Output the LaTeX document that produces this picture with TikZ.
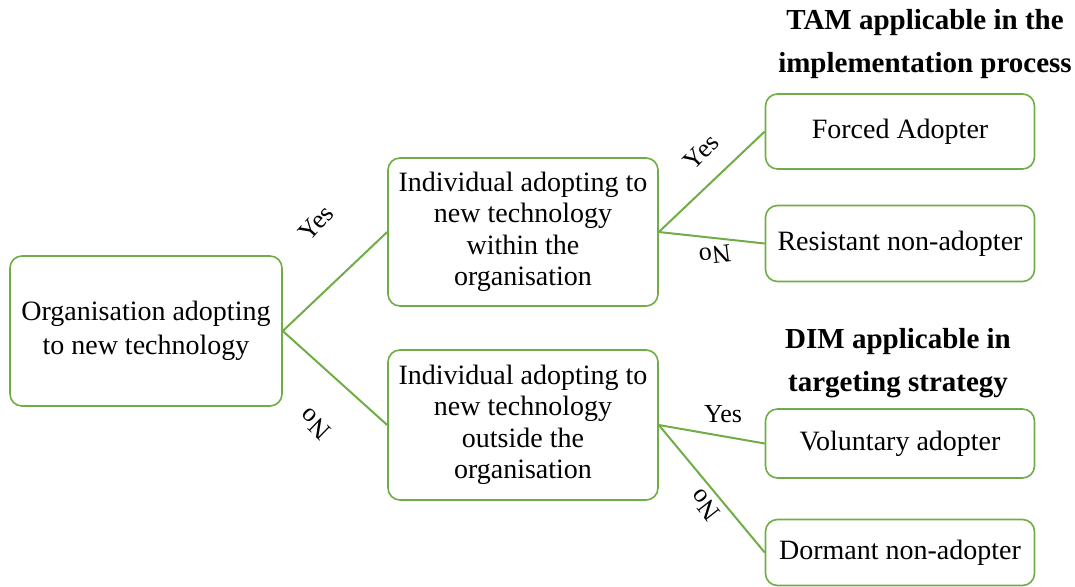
\documentclass[tikz,border=0pt]{standalone}
\usepackage{fontspec}
\setmainfont{Liberation Serif}
\definecolor{boxgreen}{RGB}{112,173,71}
\begin{document}
\begin{tikzpicture}[x=1pt,y=-1pt,
  box/.style={draw=boxgreen, line width=1.6pt, rounded corners=12pt, align=center, inner sep=0pt, fill=white},
  link/.style={draw=boxgreen, line width=2pt},
  lbl/.style={font=\fontsize{26}{30}\selectfont, inner sep=0pt},
  head/.style={font=\fontsize{29}{43}\selectfont\bfseries, align=center, inner sep=0pt},
  txt/.style={font=\fontsize{28}{34}\selectfont}
]
\useasboundingbox (0,0) rectangle (1075,586);
\node[box, txt, minimum width=272pt, minimum height=150pt] (org) at (146,331) {Organisation adopting\\to new technology};
\node[box, font=\fontsize{28}{31.5}\selectfont, minimum width=270pt, minimum height=148pt] (mid1) at (523,232) {Individual adopting to\\new technology\\within the\\organisation};
\node[box, font=\fontsize{28}{31.5}\selectfont, minimum width=270pt, minimum height=150pt] (mid2) at (523,425) {Individual adopting to\\new technology\\outside the\\organisation};
\node[box, txt, minimum width=269pt, minimum height=75pt] (forced) at (900,131.5) {Forced Adopter};
\node[box, txt, minimum width=269pt, minimum height=76pt] (resist) at (900,243.5) {Resistant non-adopter};
\node[box, txt, minimum width=269pt, minimum height=69pt] (vol) at (900,443.5) {Voluntary adopter};
\node[box, txt, minimum width=269pt, minimum height=66pt] (dorm) at (900,552.5) {Dormant non-adopter};
\draw[link] (org.east) -- (mid1.west);
\draw[link] (org.east) -- (mid2.west);
\draw[link] (mid1.east) -- (forced.west);
\draw[link] (mid1.east) -- (resist.west);
\draw[link] (mid2.east) -- (vol.west);
\draw[link] (mid2.east) -- (dorm.west);
\node[lbl, rotate=48] (y1) at (316,223) {Yes};
\node[lbl, rotate=136] (n1) at (315,424) {No};
\node[lbl, rotate=45] (y2) at (701,152) {Yes};
\node[lbl, rotate=187] (n2) at (715,255) {No};
\node[lbl] (y3) at (723,414) {Yes};
\node[lbl, rotate=128] (n3) at (705,505) {No};
\node[head] (tam) at (925,44) {TAM applicable in the\\implementation process};
\node[head] (dim) at (898,363) {DIM applicable in\\targeting strategy};
\end{tikzpicture}
\end{document}
